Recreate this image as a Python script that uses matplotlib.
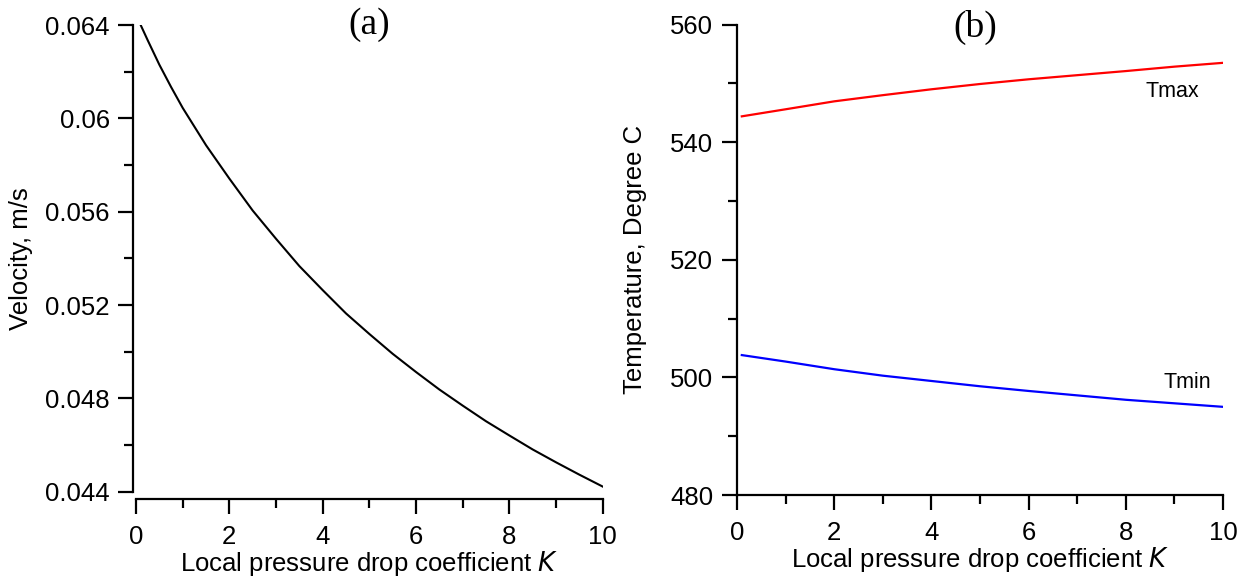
import numpy as np
import matplotlib
matplotlib.use("Agg")
from matplotlib import pyplot as plt
from matplotlib.ticker import MultipleLocator, FormatStrFormatter

plt.rcParams['font.family'] = 'Liberation Sans'

# velocity vs local pressure drop coefficient
k_vel = [0.1, 0.25, 0.5, 0.75, 1.0, 1.5, 2.0, 2.5, 3.0, 3.5, 4.0, 4.5, 5.0,
         5.5, 6.0, 6.5, 7.0, 7.5, 8.0, 8.5, 9.0, 9.5, 10.0]
velocity = [0.06400, 0.06335, 0.06230, 0.06135, 0.06045, 0.05885, 0.05742,
            0.05605, 0.05484, 0.05367, 0.05264, 0.05164, 0.05076, 0.04991,
            0.04913, 0.04838, 0.04769, 0.04702, 0.04641, 0.04581, 0.04526,
            0.04473, 0.04422]

# max / min temperature vs local pressure drop coefficient
k_temp = [0.1, 1, 2, 3, 4, 5, 6, 7, 8, 9, 10]
t_max = [544.4, 545.6, 546.95, 548.0, 549.0, 549.9, 550.7, 551.4, 552.1, 552.85, 553.5]
t_min = [503.8, 502.7, 501.4, 500.3, 499.4, 498.5, 497.7, 496.95, 496.2, 495.6, 495.0]

fig = plt.figure(figsize=(12.48, 5.79), dpi=100)
ax1 = fig.add_axes([0.109, 0.1508, 0.3739, 0.8059])
ax2 = fig.add_axes([0.5905, 0.1450, 0.3895, 0.8125])

tick_fs = 18.5
lab_fs = 18.5

def style_axis(ax):
    for s in ("top", "right"):
        ax.spines[s].set_visible(False)
    for s in ("left", "bottom"):
        ax.spines[s].set_linewidth(1.6)
    ax.tick_params(which="major", direction="out", length=11, width=1.6,
                   labelsize=tick_fs)
    ax.tick_params(which="minor", direction="out", length=6.5, width=1.6)
    ax.tick_params(axis="y", which="major", pad=6)
    ax.tick_params(axis="x", which="major", pad=8)
    ax.set_xlim(0, 10)
    ax.xaxis.set_major_locator(MultipleLocator(2))
    ax.xaxis.set_minor_locator(MultipleLocator(1))
    ax.set_xlabel("Local pressure drop coefficient $\\it{K}$", fontsize=lab_fs,
                  labelpad=0)

# (a) velocity
ax1.plot(k_vel, velocity, color="black", lw=1.5)
style_axis(ax1)
ax1.set_ylim(0.044, 0.064)
ax1.yaxis.set_major_locator(MultipleLocator(0.004))
ax1.yaxis.set_minor_locator(MultipleLocator(0.002))
ax1.yaxis.set_major_formatter(FormatStrFormatter('%g'))
ax1.spines["left"].set_position(("outward", 2))
ax1.spines["bottom"].set_position(("outward", 5))
ax1.set_ylabel("Velocity, m/s", fontsize=lab_fs)
ax1.yaxis.set_label_coords(-0.221, 0.5)
ax1.text(0.5, 1.0, "(a)", transform=ax1.transAxes, ha="center", va="center",
         fontsize=27, family="Liberation Serif")

# (b) temperature
ax2.plot(k_temp, t_max, color="#ff0000", lw=1.6)
ax2.plot(k_temp, t_min, color="#0000ff", lw=1.6)
style_axis(ax2)
ax2.set_ylim(480, 560)
ax2.yaxis.set_major_locator(MultipleLocator(20))
ax2.yaxis.set_minor_locator(MultipleLocator(10))
ax2.set_ylabel("Temperature, Degree C", fontsize=lab_fs)
ax2.yaxis.set_label_coords(-0.185, 0.5)
ax2.text(8.95, 548.65, "Tmax", ha="center", va="center", fontsize=15.5)
ax2.text(9.26, 499.1, "Tmin", ha="center", va="center", fontsize=15.5)
ax2.text(0.49, 0.995, "(b)", transform=ax2.transAxes, ha="center", va="center",
         fontsize=27, family="Liberation Serif")

fig.savefig("out.png", dpi=100)
